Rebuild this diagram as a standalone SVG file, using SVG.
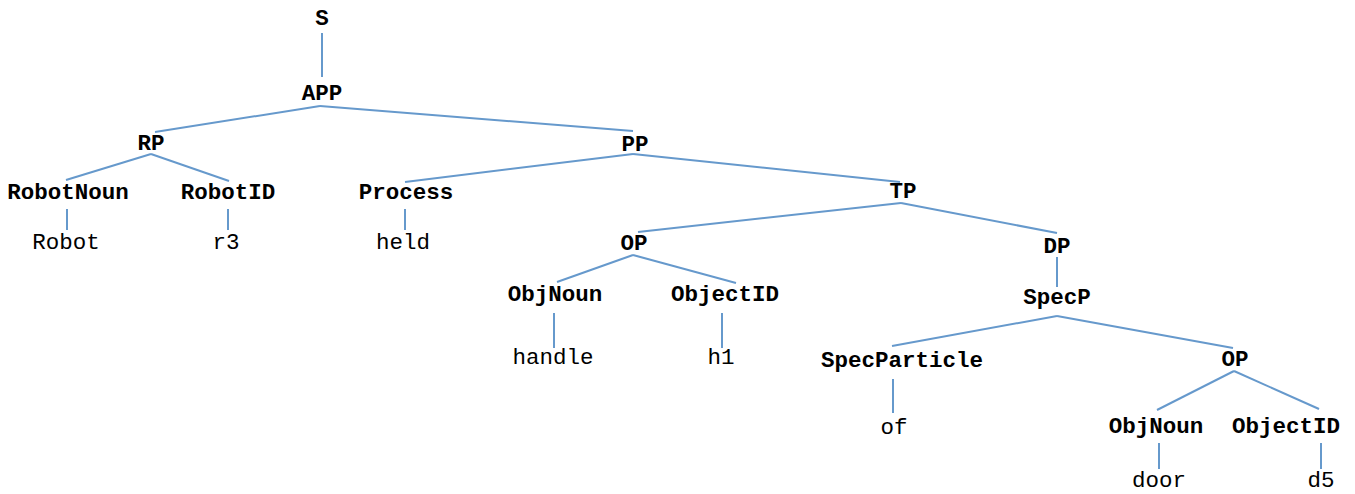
<svg xmlns="http://www.w3.org/2000/svg" width="1355" height="494" viewBox="0 0 1355 494">
<style>
text{font-family:"Liberation Mono","Courier New",monospace;font-size:22.5px;text-anchor:middle;fill:#000}
.n{font-weight:bold}
.e line{stroke:#6699cc;stroke-width:2;stroke-linecap:butt}
</style>
<rect width="1355" height="494" fill="#fff"/>
<g class="e" id="connectors">
<line x1="322" y1="33" x2="322" y2="77"/>
<line x1="320" y1="106" x2="155" y2="132"/>
<line x1="320" y1="106" x2="633" y2="131"/>
<line x1="151" y1="154" x2="66" y2="180"/>
<line x1="151" y1="154" x2="229" y2="181"/>
<line x1="67" y1="209" x2="67" y2="230"/>
<line x1="228" y1="209" x2="228" y2="230"/>
<line x1="633" y1="154" x2="405" y2="182"/>
<line x1="633" y1="154" x2="900" y2="182"/>
<line x1="405" y1="209" x2="405" y2="230"/>
<line x1="901" y1="203" x2="638" y2="232"/>
<line x1="901" y1="203" x2="1057" y2="233"/>
<line x1="633" y1="255" x2="557" y2="282"/>
<line x1="633" y1="255" x2="736" y2="283"/>
<line x1="554" y1="313" x2="554" y2="348"/>
<line x1="722" y1="313" x2="722" y2="348"/>
<line x1="1057" y1="257" x2="1057" y2="287"/>
<line x1="1057" y1="316" x2="892" y2="346"/>
<line x1="1057" y1="316" x2="1233" y2="348"/>
<line x1="893" y1="379" x2="893" y2="413"/>
<line x1="1234" y1="371" x2="1157" y2="410"/>
<line x1="1234" y1="371" x2="1319" y2="409"/>
<line x1="1159" y1="443" x2="1159" y2="469"/>
<line x1="1321" y1="443" x2="1321" y2="469"/>
</g>
<g id="S"><text class="n" x="322" y="25">S</text></g>
<g id="APP"><text class="n" x="322" y="100">APP</text></g>
<g id="RP"><text class="n" x="151" y="150">RP</text></g>
<g id="PP"><text class="n" x="635" y="151">PP</text></g>
<g id="RobotNoun"><text class="n" x="68" y="199">RobotNoun</text></g>
<g id="RobotID"><text class="n" x="228" y="199">RobotID</text></g>
<g id="Process"><text class="n" x="406" y="199">Process</text></g>
<g id="TP"><text class="n" x="903" y="198">TP</text></g>
<g id="Robot"><text x="66" y="249">Robot</text></g>
<g id="r3"><text x="226" y="249">r3</text></g>
<g id="held"><text x="403" y="249">held</text></g>
<g id="OP1"><text class="n" x="634" y="250">OP</text></g>
<g id="DP"><text class="n" x="1057" y="253">DP</text></g>
<g id="ObjNoun1"><text class="n" x="555" y="301">ObjNoun</text></g>
<g id="ObjectID1"><text class="n" x="725" y="301">ObjectID</text></g>
<g id="SpecP"><text class="n" x="1057" y="304">SpecP</text></g>
<g id="handle"><text x="553" y="364">handle</text></g>
<g id="h1"><text x="721" y="364">h1</text></g>
<g id="SpecParticle"><text class="n" x="902" y="367">SpecParticle</text></g>
<g id="OP2"><text class="n" x="1235" y="366">OP</text></g>
<g id="of"><text x="894" y="434">of</text></g>
<g id="ObjNoun2"><text class="n" x="1156" y="433">ObjNoun</text></g>
<g id="ObjectID2"><text class="n" x="1286" y="433">ObjectID</text></g>
<g id="door"><text x="1159" y="487">door</text></g>
<g id="d5"><text x="1321" y="487">d5</text></g>
</svg>
